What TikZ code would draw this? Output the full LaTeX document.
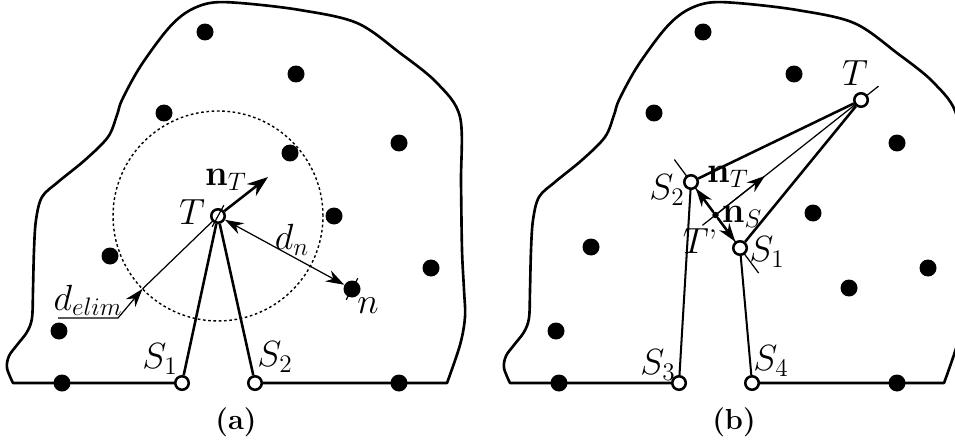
\documentclass[tikz,border=0pt]{standalone}
\usetikzlibrary{arrows.meta,calc}
\begin{document}
\begin{tikzpicture}[x=0.02cm,y=-0.02cm,
  bnd/.style={line width=1.5pt, line join=round},
  fdot/.style={circle, fill=black, inner sep=0pt, minimum size=0.34cm},
  odot/.style={circle, draw=black, fill=white, line width=1.45pt, inner sep=0pt, minimum size=0.27cm},
  sdot/.style={circle, fill=black, inner sep=0pt, minimum size=0.13cm},
  lbl/.style={font=\fontsize{19.5}{23}\selectfont, inner sep=0pt},
  captxt/.style={font=\fontsize{16.5}{20}\selectfont, inner sep=0pt},
  thickln/.style={line width=1.45pt},
  medln/.style={line width=1.15pt},
  thinln/.style={line width=0.7pt},
  tip/.style={-{Stealth[length=12pt,width=8.5pt]}},
  smalltip/.style={-{Stealth[length=10.5pt,width=7pt]}},
  dimtip/.style={{Stealth[length=10.5pt,width=7pt]}-{Stealth[length=10.5pt,width=7pt]}},
]
\useasboundingbox (0,0) rectangle (955,446);
\clip (0,0) rectangle (955,446);

% ---------- boundaries ----------
\foreach \sh in {0,497}{
\begin{scope}[xshift=\sh*0.02cm]
\draw[bnd] (182,383) -- (13,383) -- plot[smooth,tension=0.55] coordinates {
 (13,383) (7,368) (9,356) (17,345) (27,332) (32,318) (33,290) (34,250) (36,220)
 (42,197) (58,182) (85,160) (108,137) (117,115) (122,100) (140,67) (167,30)
 (187,12) (210,3) (240,3) (300,10) (357,23) (400,53) (437,83) (460,117)
 (461,183) (462,250) (464,290) (465,317) (460,345) (447,383)} -- (255,383);
\end{scope}}

% ---------- panel (a) ----------
\foreach \p in {(205,32),(296,74),(164,113),(290,153),(399,143),(334,216),(110,256),(431,268),(59,331),(62,383),(399,383)}
  \node[fdot] at \p {};
\node[fdot] (n) at (352,289) {};

\coordinate (cT) at (218,216);
\draw[line width=0.8pt, dash pattern=on 1.5pt off 1.5pt] (cT) circle[radius=2.1cm];
\coordinate (P) at ($(cT)+(224:2.1cm)$);
\draw[thinln] (cT) -- (P);

\node[odot] (T) at (cT) {};
\node[odot] (S1) at (182,383) {};
\node[odot] (S2) at (255,383) {};

\draw[thickln] (T) -- (S1);
\draw[thickln] (T) -- (S2);
\coordinate (nTa) at (268,177);
\draw[thickln,tip] (T) -- (nTa);
\draw[thinln,dimtip] (T) -- (n);
\draw[thinln] ($(cT)!0.08!90:(n)$) -- ($(cT)!0.08!-90:(n)$);
\draw[thinln] ($(n)!0.08!90:(cT)$) -- ($(n)!0.08!-90:(cT)$);

\coordinate (U1) at (58,318);
\coordinate (U2) at (118,318);
\draw[thinln,smalltip] (U1) -- (U2) -- (P);

\node[lbl] (lT) at (192,212) {$T$};
\node[lbl] (lnT) at (226,180) {$\mathbf{n}_T$};
\node[lbl] (ldn) at (292,240) {$d_n$};
\node[lbl] (ln) at (368,306) {$n$};
\node[lbl,anchor=south] (ldel) at ($(U1)!0.5!(U2)+(0,-2)$) {$d_{elim}$};
\node[lbl] (lS1) at (160,359) {$S_1$};
\node[lbl] (lS2) at (275,357) {$S_2$};
\node[captxt] (capa) at (236,422) {\textbf{(a)}};

% ---------- panel (b) ----------
\foreach \p in {(703,32),(794,74),(654,113),(897,143),(813,213),(591,247),(928,268),(849,288),(556,331),(559,383),(897,383)}
  \node[fdot] at \p {};

\coordinate (cTb) at (861,100);
\coordinate (cS2) at (691,182);
\coordinate (cS1) at (740,248);
\coordinate (cTp) at ($(cS2)!0.5!(cS1)$);
\draw[thinln] ($(cTp)!-0.09!(cTb)$) -- ($(cTp)!1.12!(cTb)$);
\draw[thinln] ($(cS2)!-0.34!(cS1)$) -- ($(cS2)!1.38!(cS1)$);
\draw[thinln,smalltip] (cTp) -- ($(cTp)!0.34!(cTb)$);

\node[odot] (Tb) at (cTb) {};
\node[odot] (S2b) at (cS2) {};
\node[odot] (S1b) at (cS1) {};
\node[odot] (S3) at (679,383) {};
\node[odot] (S4) at (752,383) {};
\node[sdot] (Tp) at (cTp) {};

\draw[thickln] (Tb) -- (S2b);
\draw[thickln] (Tb) -- (S1b);
\draw[thickln,smalltip] (Tp) -- (S2b);
\draw[thickln,smalltip] (Tp) -- (S1b);
\draw[medln] (S2b) -- (S3);
\draw[medln] (S1b) -- (S4);

\node[lbl] (lTb) at (855,73) {$T$};
\node[lbl] (lS2b) at (667,190) {$S_2$};
\node[lbl] (lnTb) at (728,177) {$\mathbf{n}_T$};
\node[lbl] (lnS) at (742,217) {$\mathbf{n}_S$};
\node[lbl] (lTp) at (700,241) {$T$'};
\node[lbl] (lS1b) at (767,252) {$S_1$};
\node[lbl] (lS3) at (658,365) {$S_3$};
\node[lbl] (lS4) at (771,361) {$S_4$};
\node[captxt] (capb) at (734,422) {\textbf{(b)}};
\end{tikzpicture}
\end{document}
